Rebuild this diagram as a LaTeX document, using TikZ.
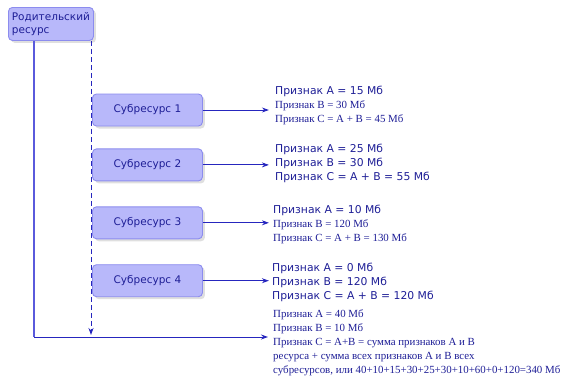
\documentclass[tikz,border=0pt]{standalone}
\usepackage{fontspec}
\setmainfont{DejaVu Sans}
\newfontfamily\tms{Liberation Serif}
\usetikzlibrary{positioning, arrows.meta, shadows}

\definecolor{boxfill}{HTML}{B8B8FA}
\definecolor{boxline}{HTML}{8C8CEE}
\definecolor{inkblue}{HTML}{1E1E96}
\definecolor{arrowblue}{HTML}{2626BE}
\definecolor{trunkblue}{HTML}{5A5ADC}

\newcommand\serifline{\tms\fontsize{10.9}{13.8}\selectfont}

\tikzset{
  res/.style={draw=boxline, fill=boxfill, rounded corners=4pt, line width=0.9pt,
    drop shadow={opacity=0.25, shadow xshift=2.5pt, shadow yshift=-2.5pt},
    font=\fontsize{10.5}{12.5}\selectfont, text=inkblue},
  subres/.style={res, minimum width=110pt, minimum height=32pt, anchor=west},
  attrs/.style={anchor=base west, align=left, inner sep=0pt, text=inkblue,
    font=\fontsize{10.8}{13.8}\selectfont},
  link/.style={draw=arrowblue, line width=0.9pt, -{Stealth[length=7pt,width=5pt]}}
}

\begin{document}
\begin{tikzpicture}[x=1pt, y=-1pt]
\useasboundingbox (0,0) rectangle (564,375);

\node[res, anchor=north west, minimum width=85pt, minimum height=33pt,
      align=left, inner sep=2pt] (parent) at (8,7) {Родительский\\ресурс};

\node[subres] (s1) at (92,110) {Субресурс 1};
\node[subres, below=22pt of s1] (s2) {Субресурс 2};
\node[subres, below=25pt of s2] (s3) {Субресурс 3};
\node[subres, below=25pt of s3] (s4) {Субресурс 4};

\coordinate (t1) at ([xshift=66pt]s1.east);
\coordinate (t2) at ([xshift=66pt]s2.east);
\coordinate (t3) at ([xshift=66pt]s3.east);
\coordinate (t4) at ([xshift=66pt]s4.east);

\coordinate (pl) at (34,337);
\coordinate (pr) at (268,337);
\coordinate (dl) at (91,335);

% anchor base = baseline of the last line
\node[attrs] (a1) at (275,122)
    {Признак A = 15 Мб\\{\serifline Признак B = 30 Мб}\\{\serifline Признак C = A + B = 45 Мб}};
\node[attrs] (a2) at (275,180)
    {Признак A = 25 Мб\\Признак B = 30 Мб\\Признак C = A + B = 55 Мб};
\node[attrs] (a3) at (273,241)
    {Признак A = 10 Мб\\{\serifline Признак B = 120 Мб}\\{\serifline Признак C = A + B = 130 Мб}};
\node[attrs] (a4) at (272,299)
    {Признак A = 0 Мб\\Признак B = 120 Мб\\Признак C = A + B = 120 Мб};
\node[attrs, font=\serifline] (a5) at (273,373)
    {Признак A = 40 Мб\\Признак B = 10 Мб\\Признак C = A+B = сумма признаков A и B\\ресурса + сумма всех признаков A и B всех\\субресурсов, или 40+10+15+30+25+30+10+60+0+120=340 Мб};

\draw[trunkblue, line width=1.6pt] (parent.south -| pl) -- (pl);
\draw[link] (pl) -- (pr);
\draw[link, dashed, dash pattern=on 5pt off 3pt] (parent.south -| dl) -- (dl);

\draw
    (s1.east) edge[link] (t1)
    (s2.east) edge[link] (t2)
    (s3.east) edge[link] (t3)
    (s4.east) edge[link] (t4)
    ;
\end{tikzpicture}
\end{document}
